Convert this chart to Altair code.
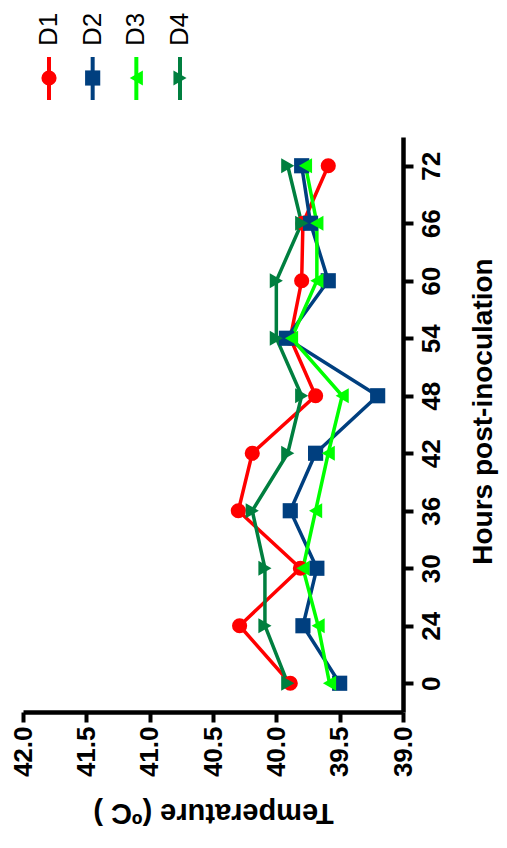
import altair as alt
import pandas as pd

# ---- data ----
hours = [0, 24, 30, 36, 42, 48, 54, 60, 66, 72]
series_names = ["D1", "D2", "D3", "D4"]
d1 = [39.89, 40.29, 39.81, 40.30, 40.19, 39.69, 39.89, 39.80, 39.79, 39.59]
d2 = [39.50, 39.79, 39.68, 39.89, 39.69, 39.20, 39.92, 39.59, 39.73, 39.80]
d3 = [39.58, 39.67, 39.79, 39.69, 39.59, 39.48, 39.88, 39.68, 39.68, 39.77]
d4 = [39.91, 40.09, 40.09, 40.19, 39.91, 39.80, 40.00, 40.00, 39.80, 39.91]
temp_ticks = [39.0, 39.5, 40.0, 40.5, 41.0, 41.5, 42.0]

colors = ["#FF0000", "#003F7F", "#00FF00", "#007F3F"]
shapes = ["circle", "square", "triangle-left", "triangle-right"]

rows = []
for name, vals in zip(series_names, [d1, d2, d3, d4]):
    for h, v in zip(hours, vals):
        rows.append({"series": name, "hour": h, "temp": v})
df = pd.DataFrame(rows)
leg_df = pd.DataFrame({"series": series_names})

FONT = "Liberation Sans"

color_enc = alt.Color("series:N", scale=alt.Scale(domain=series_names, range=colors), legend=None)
shape_enc = alt.Shape("series:N", scale=alt.Scale(domain=series_names, range=shapes), legend=None)

x_enc = alt.X(
    "temp:Q",
    scale=alt.Scale(domain=[39, 42], reverse=True, nice=False, zero=False),
    axis=alt.Axis(
        orient="bottom", values=temp_ticks, format=".1f",
        labelAngle=270, labelAlign="right", labelBaseline="middle",
        labelFont=FONT, labelFontWeight="bold", labelFontSize=26, labelColor="black",
        labelPadding=4, labelOverlap=False, labelFlush=False,
        tickSize=10, tickWidth=4, tickColor="black",
        domainWidth=4.5, domainColor="black", grid=False,
        title="Temperature (ºC )", titleAngle=180, titleBaseline="bottom", titleAlign="center",
        titleFont=FONT, titleFontWeight="bold", titleFontSize=29, titleColor="black",
        titlePadding=21,
    ),
)
y_enc = alt.Y(
    "hour:O",
    sort=list(reversed(hours)),
    scale=alt.Scale(type="point", padding=0.5),
    axis=alt.Axis(
        orient="right",
        labelAngle=270, labelAlign="center", labelBaseline="top",
        labelFont=FONT, labelFontWeight="bold", labelFontSize=26, labelColor="black",
        labelPadding=5, labelOverlap=False,
        tickSize=10, tickWidth=4, tickColor="black",
        domainWidth=4.5, domainColor="black", grid=False,
        title="Hours post-inoculation", titleAngle=270, titleBaseline="top", titleAlign="center",
        titleFont=FONT, titleFontWeight="bold", titleFontSize=28, titleColor="black",
        titlePadding=25, titleY=274,
    ),
)

lines = alt.Chart(df).mark_line(strokeWidth=3.5).encode(
    x=x_enc, y=y_enc, color=color_enc, order=alt.Order("hour:Q")
)
points = alt.Chart(df).mark_point(filled=True, size=230, opacity=1).encode(
    x=x_enc, y=y_enc, color=color_enc, shape=shape_enc
)
main = alt.layer(lines, points)

lx = alt.X("series:N", scale=alt.Scale(type="point", domain=series_names, range=[26, 157], padding=0), axis=None)
leg_rule = alt.Chart(leg_df).mark_rule(strokeWidth=4).encode(
    x=lx, y=alt.value(-80), y2=alt.value(-37), color=color_enc
)
leg_pt = alt.Chart(leg_df).mark_point(filled=True, size=230, opacity=1).encode(
    x=lx, y=alt.value(-59), color=color_enc, shape=shape_enc
)
leg_txt = alt.Chart(leg_df).mark_text(
    angle=270, align="left", baseline="middle", fontSize=26, font=FONT, color="black"
).encode(x=lx, y=alt.value(-91), text="series:N")
legend = alt.layer(leg_rule, leg_pt, leg_txt)

chart = alt.layer(main, legend).resolve_scale(x="independent").properties(
    width=380, height=575,
    autosize=alt.AutoSizeParams(type="none"),
    padding={"left": 15, "top": 129, "right": 96, "bottom": 128},
    background="white",
).configure_view(stroke=None)

chart.save("out.html", embed_options={"renderer": "svg", "actions": False})
